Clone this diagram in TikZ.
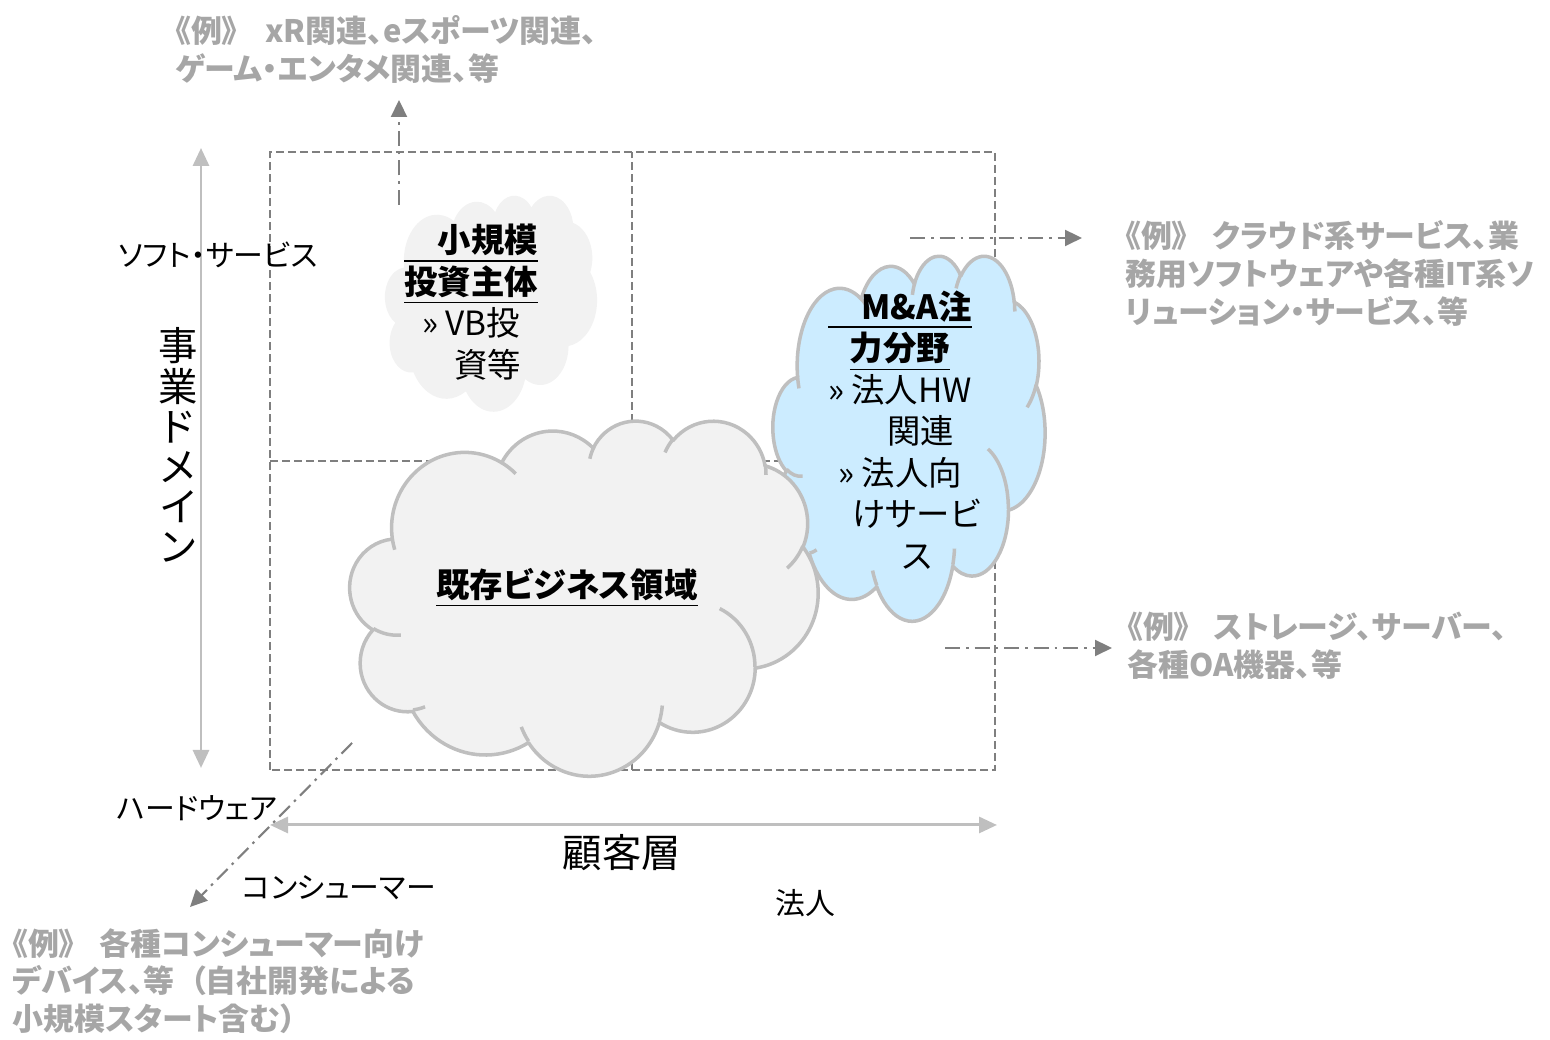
\documentclass[tikz,border=0pt]{standalone}
\usepackage{fontspec}
\setmainfont{Noto Sans CJK JP}[RawFeature=+palt]
\usepackage{tikz}
\usetikzlibrary{arrows.meta}
\definecolor{exgray}{RGB}{166,166,166}
\definecolor{linegray}{RGB}{127,127,127}
\definecolor{axisgray}{RGB}{191,191,191}
\definecolor{cloudfill}{RGB}{242,242,242}
\definecolor{cloudblue}{RGB}{204,236,255}
\tikzstyle{gridline}=[draw=linegray,line width=0.7pt,dash pattern=on 0.08cm off 0.04cm]
\tikzstyle{axisarrow}=[draw=axisgray,line width=0.85pt,{Triangle[length=0.18cm,width=0.16cm]}-{Triangle[length=0.18cm,width=0.16cm]}]
\tikzstyle{exarrow}=[draw=linegray,line width=0.6pt,dash pattern=on 0.15cm off 0.06cm on 0.025cm off 0.06cm,-{Triangle[length=0.17cm,width=0.16cm]}]
\tikzstyle{extext}=[text=exgray,font=\bfseries\fontsize{8.8}{10.8}\selectfont,align=left,inner sep=0pt,anchor=north west]
\tikzstyle{labeltext}=[font=\fontsize{8.5}{11}\selectfont,inner sep=0pt]
\tikzstyle{bigtext}=[font=\fontsize{11.2}{11.4}\selectfont,inner sep=0pt,align=center]
\tikzstyle{cloudtext}=[font=\fontsize{9.5}{11.8}\selectfont,align=center,inner sep=0pt]
\tikzstyle{cloudline}=[draw=axisgray,line width=1pt,line join=round]
% arc of an ellipse, angles as in the office cloud outline
\newcommand{\cloudarc}[4]{arc[x radius=#1, y radius=#2, start angle={atan2(#1*sin(#3),#2*cos(#3))}, delta angle={mod(atan2(#1*sin(#3+#4),#2*cos(#3+#4))-atan2(#1*sin(#3),#2*cos(#3))+720,360)}]}
\newcommand{\cloudoutline}{(0.39,1.437)
  \cloudarc{0.6753}{0.919}{-190.4875}{123.7805}
  \cloudarc{0.5333}{0.7267}{-144.1024}{89.9452}
  \cloudarc{0.4365}{0.5945}{-145.8079}{99.7230}
  \cloudarc{0.4857}{0.6595}{-130.9861}{117.2417}
  \cloudarc{0.5333}{0.7273}{-78.7089}{109.0269}
  \cloudarc{0.6775}{0.922}{-46.2673}{130.2690}
  \cloudarc{0.5785}{0.7867}{0.6250}{114.0333}
  \cloudarc{0.6752}{0.9215}{22.4516}{115.1726}
  \cloudarc{0.772}{1.0543}{66.2426}{75.7110}
  \cloudarc{0.436}{0.5918}{-274.9421}{146.7356}
  \cloudarc{0.4345}{0.5945}{-246.8285}{152.5189} -- cycle}
\newcommand{\cloudinner}{(0.4693,2.6177) \cloudarc{0.4345}{0.5945}{86.7420}{26.4295}
  (0.6928,3.4899) \cloudarc{0.436}{0.5918}{73.6105}{11.4475}
  (1.6478,3.909) \cloudarc{0.6752}{0.9215}{137.6242}{14.0811}
  (2.8827,3.4751) \cloudarc{0.6752}{0.9215}{6.4533}{15.9984}
  (3.4129,2.2954) \cloudarc{0.5785}{0.7867}{-70.2924}{70.9174}
  (4.1798,1.5354) \cloudarc{0.5333}{0.7273}{30.3180}{27.7515}
  (3.8324,0.5426) \cloudarc{0.4857}{0.6595}{-13.7443}{14.8589}
  (2.9078,0.3952) \cloudarc{0.4857}{0.6595}{-149.1815}{18.1954}
  (2.2141,0.472) \cloudarc{0.4365}{0.5945}{-163.4943}{17.6864}
  (1.4,0.5192) \cloudarc{0.6753}{0.919}{-66.7070}{12.3194}
  (0.4127,1.5789) \cloudarc{0.6753}{0.919}{157.6544}{11.8582}}

\begin{document}
\begin{tikzpicture}
\useasboundingbox (0,0) rectangle (15.5,10.4);

  \draw[gridline] (2.70,2.70) rectangle (9.95,8.88);
  \draw[gridline] (6.32,2.70) -- (6.32,8.88);
  \draw[gridline] (2.70,5.79) -- (9.95,5.79);

\begin{scope}[shift={(3.85,8.45)},xscale=2.12/4.32,yscale=-2.16/4.32]
  \fill[cloudfill] \cloudoutline;
\end{scope}
\begin{scope}[shift={(7.73,7.85)},xscale=2.72/4.32,yscale=-3.65/4.32]
  \filldraw[cloudline,fill=cloudblue] \cloudoutline;
  \draw[cloudline] \cloudinner;
\end{scope}
\begin{scope}[shift={(3.50,6.20)},xscale=4.68/4.32,yscale=-3.55/4.32]
  \filldraw[cloudline,fill=cloudfill] \cloudoutline;
  \draw[cloudline] \cloudinner;
\end{scope}

\node[cloudtext] (smalltext) at (4.71,7.38) {\underline{\textbf{\hspace*{1em}小規模}}\\
  \underline{\textbf{投資主体}}\\
  »\ VB投\\
  \hspace*{1em}資等};
\node[cloudtext] (matext) at (9.00,6.10) {\underline{\textbf{\hspace*{1em}M\&A注}}\\
  \underline{\textbf{力分野}}\\
  »\ 法人HW\\
  \hspace*{1.25em}関連\\
  »\ 法人向\\
  \hspace*{1em}けサービ\\
  \hspace*{1em}ス};
\node[cloudtext] (biztext) at (5.67,4.52) {\underline{\textbf{既存ビジネス領域}}};

\coordinate (vtop) at (2.01,8.92);
\coordinate (vbot) at (2.01,2.72);
\coordinate (hleft) at (2.70,2.15);
\coordinate (hright) at (9.97,2.15);
\draw[axisarrow] (vtop) -- (vbot);
\draw[axisarrow] (hleft) -- (hright);

\node[labeltext] (soft) at (2.18,7.85) {ソフト・サービス};
\node[labeltext] (hard) at (1.97,2.32) {ハードウェア};
\node[labeltext] (consumer) at (3.39,1.52) {コンシューマー};
\node[labeltext] (corp) at (8.05,1.37) {法人};
\node[bigtext] (domain) at (1.78,5.95) {事\\業\\ド\\メ\\イ\\ン};
\node[bigtext] (customer) at (6.22,1.87) {顧客層};

\node[extext] (exsoftcon) at (1.75,10.255) {《例》\hspace{0.9em}xR関連、eスポーツ関連、\\ゲーム・エンタメ関連、等};
\node[extext] (exsoftcorp) at (11.25,8.205) {《例》\hspace{0.8em}クラウド系サービス、業\\務用ソフトウェアや各種IT系ソ\\リューション・サービス、等};
\node[extext] (exhardcorp) at (11.27,4.285) {《例》\hspace{0.8em}ストレージ、サーバー、\\各種OA機器、等};
\node[extext] (exhardcon) at (0.12,1.125) {《例》\hspace{0.8em}各種コンシューマー向け\\デバイス、等\hspace{0.5em}（自社開発による\\小規模スタート含む）};

\coordinate (upstart) at (3.99,8.35);
\coordinate (upend) at (3.99,9.40);
\coordinate (rtstart) at (9.10,8.02);
\coordinate (rtend) at (10.82,8.02);
\coordinate (rbstart) at (9.45,3.92);
\coordinate (rbend) at (11.12,3.92);
\coordinate (dgstart) at (3.52,2.97);
\coordinate (dgend) at (1.90,1.33);
\draw[exarrow] (upstart) -- (upend);
\draw[exarrow] (rtstart) -- (rtend);
\draw[exarrow] (rbstart) -- (rbend);
\draw[exarrow] (dgstart) -- (dgend);

\end{tikzpicture}
\end{document}
